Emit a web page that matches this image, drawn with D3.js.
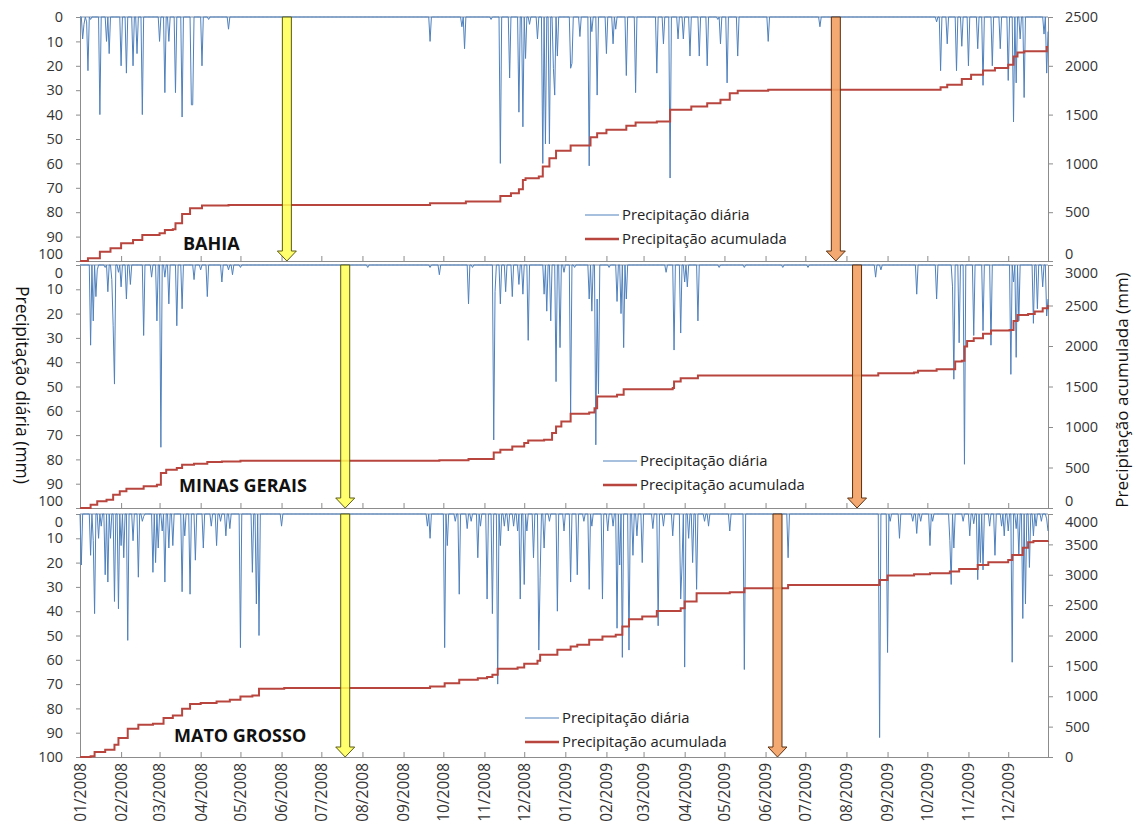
<!DOCTYPE html>
<html>
<head>
<meta charset="utf-8">
<script src="https://cdn.jsdelivr.net/npm/d3@7"></script>
<style>
  body { margin: 0; background: #fff; }
  svg text { font-family: "Open Sans", sans-serif; }
</style>
</head>
<body>
<div id="chart"></div>
<script>
// daily rain events per state: [day since 01/01/2008, mm]; other days are 0
const bahiaDaily = [
  [2, 9], [3, 3], [5, 2], [6, 22], [8, 1], [15, 40], [20, 10], [22, 15], [31, 20], [35, 23], [40, 20], [43, 15],
  [47, 40], [60, 10], [64, 31], [67, 10], [72, 31], [77, 41], [84, 36], [85, 36], [92, 20], [97, 1], [112, 5],
  [264, 10], [288, 4], [290, 13], [310, 1], [317, 60], [324, 25], [331, 39], [334, 45], [336, 17], [339, 3],
  [345, 9], [349, 60], [351, 52], [354, 52], [357, 21], [358, 32], [360, 16], [370, 21], [371, 19], [377, 8],
  [384, 61], [386, 6], [390, 32], [397, 15], [402, 11], [404, 5], [412, 24], [419, 31], [435, 23], [440, 11],
  [445, 66], [451, 9], [455, 9], [460, 16], [467, 16], [473, 20], [481, 1], [483, 11], [488, 27], [496, 16],
  [519, 10], [558, 4], [646, 2], [649, 22], [654, 11], [661, 22], [665, 12], [670, 20], [677, 13], [681, 28],
  [688, 20], [694, 13], [700, 26], [704, 43], [706, 27], [709, 9], [712, 33], [727, 7], [729, 23], [730, 6]
];
const minasDaily = [
  [8, 33], [10, 23], [12, 13], [13, 2], [19, 1], [21, 11], [24, 6], [25, 25], [26, 49], [29, 3], [31, 9],
  [35, 14], [38, 8], [48, 29], [54, 5], [58, 23], [61, 75], [64, 5], [67, 16], [73, 25], [77, 18], [86, 6],
  [91, 2], [96, 13], [107, 7], [112, 2], [115, 4], [121, 1], [217, 1],
  [264, 1], [271, 4], [293, 16], [296, 1], [312, 72], [313, 11], [317, 16], [321, 11], [326, 13], [331, 8],
  [334, 12], [338, 31], [350, 12], [352, 19], [355, 23], [359, 48], [362, 34], [365, 3], [370, 61], [373, 1],
  [384, 14], [386, 19], [389, 74], [390, 14], [391, 53], [399, 1], [405, 15], [408, 20], [410, 34], [412, 14],
  [442, 3], [448, 35], [453, 28], [456, 7], [458, 9], [466, 23], [482, 1], [501, 1],
  [530, 1], [549, 1], [600, 5], [604, 2], [631, 12], [646, 14], [658, 9], [659, 47], [663, 32], [667, 82],
  [674, 29], [681, 27], [687, 33], [702, 45], [704, 7], [706, 38], [708, 23], [719, 24], [722, 18], [726, 9],
  [729, 21], [730, 14]
];
const matoDaily = [
  [1, 21], [8, 17], [10, 11], [11, 41], [14, 10], [16, 5], [19, 25], [21, 28], [23, 10], [26, 36], [29, 39],
  [31, 13], [33, 18], [36, 52], [40, 11], [44, 26], [47, 3], [48, 1], [55, 24], [57, 20], [59, 14], [62, 7],
  [64, 28], [67, 14], [70, 13], [77, 32], [79, 9], [83, 33], [87, 19], [93, 14], [99, 5], [103, 13], [106, 3],
  [110, 9], [113, 6], [121, 55], [130, 24], [133, 37], [135, 50], [152, 5],
  [262, 5], [264, 10], [275, 55], [277, 13], [283, 3], [286, 33], [292, 6], [295, 3], [300, 18], [302, 5],
  [307, 35], [311, 41], [315, 70], [317, 13], [320, 5], [323, 7], [327, 5], [330, 7], [332, 35], [335, 29],
  [337, 7], [342, 18], [346, 56], [347, 26], [350, 14], [354, 3], [360, 40], [365, 7], [370, 28], [375, 25],
  [380, 3], [384, 31], [386, 5], [394, 35], [398, 7], [402, 5], [405, 47], [407, 21], [409, 59], [414, 56],
  [417, 17], [420, 9], [424, 20], [432, 6], [436, 46], [440, 5], [447, 9], [453, 35], [454, 21], [456, 63],
  [459, 10], [462, 20], [465, 31], [471, 3], [474, 5], [490, 7], [501, 64],
  [534, 18], [603, 92], [609, 57], [611, 3], [618, 10], [628, 3], [631, 8], [634, 3], [641, 13], [643, 3],
  [656, 11], [657, 29], [659, 14], [666, 3], [671, 9], [674, 4], [677, 27], [679, 20], [681, 23], [686, 5],
  [690, 17], [695, 5], [697, 9], [700, 7], [703, 61], [706, 6], [708, 17], [711, 43], [713, 37], [716, 22],
  [719, 9], [721, 5], [725, 3], [729, 2], [730, 7]
];

// accumulated rain: [day, mm] where the level changes
const bahiaTotal = [
  [0, 0], [6, 27], [15, 96], [23, 130], [31, 181], [40, 215], [47, 267], [60, 284], [64, 318], [70, 325],
  [72, 386], [77, 482], [83, 540], [92, 568], [112, 575], [264, 592], [291, 609], [317, 667], [325, 694],
  [331, 735], [334, 831], [336, 848], [346, 865], [349, 968], [354, 1053], [359, 1129], [370, 1183],
  [385, 1269], [390, 1310], [397, 1344], [412, 1385], [419, 1419], [435, 1430], [445, 1549], [461, 1583],
  [473, 1617], [483, 1652], [490, 1720], [496, 1744], [519, 1754], [649, 1781], [654, 1806], [665, 1864],
  [672, 1908], [681, 1953], [690, 1977], [700, 2011], [704, 2096], [707, 2137], [712, 2148], [729, 2192],
  [730, 2192]
];
const minasTotal = [
  [0, 0], [8, 41], [13, 82], [20, 103], [25, 164], [30, 206], [35, 238], [48, 267], [58, 288], [61, 432],
  [65, 473], [73, 493], [77, 534], [86, 547], [96, 567], [107, 575], [121, 584], [271, 588], [293, 604],
  [312, 686], [317, 719], [326, 760], [335, 801], [338, 834], [350, 842], [356, 925], [359, 1007],
  [363, 1069], [370, 1163], [384, 1180], [388, 1233], [390, 1377], [405, 1397], [410, 1467], [447, 1480],
  [448, 1562], [453, 1603], [466, 1636], [602, 1664], [629, 1673], [632, 1693], [646, 1714], [660, 1808],
  [665, 1817], [667, 1993], [669, 2063], [674, 2096], [681, 2150], [687, 2191], [701, 2199], [704, 2310],
  [707, 2384], [715, 2396], [720, 2425], [726, 2466], [730, 2507]
];
const matoTotal = [
  [0, 0], [8, 11], [11, 82], [19, 121], [26, 203], [29, 312], [36, 466], [44, 531], [55, 548], [63, 641],
  [70, 685], [77, 794], [83, 871], [91, 888], [103, 915], [113, 942], [121, 997], [130, 1014], [135, 1123],
  [154, 1134], [264, 1162], [275, 1216], [286, 1271], [300, 1298], [307, 1315], [311, 1353], [315, 1452],
  [330, 1474], [335, 1534], [345, 1583], [347, 1682], [360, 1764], [370, 1819], [375, 1846], [384, 1929],
  [394, 1983], [404, 2011], [409, 2148], [414, 2268], [424, 2312], [435, 2405], [453, 2449], [456, 2559],
  [465, 2696], [490, 2712], [501, 2778], [534, 2833], [603, 2915], [609, 2986], [629, 3008], [641, 3024],
  [656, 3052], [663, 3096], [677, 3161], [685, 3205], [700, 3244], [703, 3326], [711, 3446], [715, 3534],
  [719, 3556], [730, 3561]
];

const stateNames = ["BAHIA", "MINAS GERAIS", "MATO GROSSO"];
const totalTicks = [
  [0, 500, 1000, 1500, 2000, 2500],
  [0, 500, 1000, 1500, 2000, 2500, 3000],
  [0, 500, 1000, 1500, 2000, 2500, 3000, 3500, 4000]
];
const rainTicks = [0, 10, 20, 30, 40, 50, 60, 70, 80, 90, 100];
// arrow days (yellow, orange)
const yellowDay = [156, 200, 200];
const orangeDay = [570, 586, 526];
const monthLabels = [
  "01/2008", "02/2008", "03/2008", "04/2008", "05/2008", "06/2008", "07/2008", "08/2008", "09/2008",
  "10/2008", "11/2008", "12/2008", "01/2009", "02/2009", "03/2009", "04/2009", "05/2009", "06/2009",
  "07/2009", "08/2009", "09/2009", "10/2009", "11/2009", "12/2009"
];
const legendLabels = ["Precipitação diária", "Precipitação acumulada"];

// layout
const width = 1134, height = 830;
const left = 80, right = 1048;
const panelTop = [17, 265, 514];
const panelBottom = [261, 508, 757];
const nameX = [183, 179, 174], nameY = [250, 492, 742];
const legX = [585, 603, 525], legY = [215, 461, 718];

const blue = "#4F81BD", red = "#B8463F", axisGray = "#8c8c8c", textCol = "#333";

const start = new Date(2008, 0, 1);
const end = new Date(2009, 11, 31);
const dayDate = (d) => d3.timeDay.offset(start, d);
const x = d3.scaleTime().domain([start, end]).range([left, right]);
const monthTicks = d3.timeMonth.range(start, new Date(2010, 0, 1));

const svg = d3.select("#chart").append("svg")
  .attr("width", width).attr("height", height)
  .style("background", "#fff");

const panels = [
  { daily: bahiaDaily, total: bahiaTotal },
  { daily: minasDaily, total: minasTotal },
  { daily: matoDaily, total: matoTotal }
];

function styleAxis(g) {
  g.attr("font-family", null);
  g.selectAll(".domain, .tick line").attr("stroke", axisGray);
  g.selectAll("text").attr("font-size", 14.5).attr("fill", textCol);
}

// labels at the joins between panels are pushed inside their own panel
function nudgeEnds(g, topVal, bottomVal, i) {
  g.selectAll(".tick text").attr("y", (d) => {
    if (d === topVal && i > 0) return 8;
    if (d === bottomVal && i < 2) return -7;
    return 0;
  });
}

function arrowPath(cx, y0, y1) {
  const sw = 4.5, hw = 9.5, hh = 10;
  return `M${cx - sw},${y0}L${cx + sw},${y0}L${cx + sw},${y1 - hh}L${cx + hw},${y1 - hh}` +
    `L${cx},${y1}L${cx - hw},${y1 - hh}L${cx - sw},${y1 - hh}Z`;
}

panels.forEach((p, i) => {
  const top = panelTop[i], bottom = panelBottom[i];
  const yRain = d3.scaleLinear().domain([0, 100]).range([top, bottom]);
  const ticks = totalTicks[i];
  const tMax = ticks[ticks.length - 1];
  const yTot = d3.scaleLinear().domain([0, tMax]).range([bottom, top]);
  const g = svg.append("g");

  // top frame line
  g.append("line")
    .attr("x1", left).attr("x2", right).attr("y1", top).attr("y2", top)
    .attr("stroke", "#7d8fa8");

  // month ticks along the bottom
  g.append("g")
    .attr("transform", `translate(0,${bottom})`)
    .call(d3.axisTop(x).tickValues(monthTicks).tickSize(5).tickSizeOuter(0).tickFormat(""))
    .call(styleAxis);

  // left axis (daily, reversed)
  g.append("g")
    .attr("transform", `translate(${left},0)`)
    .call(d3.axisLeft(yRain).tickValues(rainTicks).tickSize(4).tickSizeOuter(0).tickPadding(13))
    .call(styleAxis)
    .call((a) => nudgeEnds(a, 0, 100, i));

  // right axis (accumulated)
  g.append("g")
    .attr("transform", `translate(${right},0)`)
    .call(d3.axisRight(yTot).tickValues(ticks).tickSize(5).tickSizeOuter(0).tickPadding(12)
      .tickFormat(d3.format("d")))
    .call(styleAxis)
    .call((a) => nudgeEnds(a, tMax, 0, i));

  // daily series: every day, zero where no rain was read
  const rainMap = new Map(p.daily);
  const days = d3.range(0, 731).map((d) => [d, rainMap.get(d) || 0]);
  g.append("path")
    .datum(days)
    .attr("fill", "none")
    .attr("stroke", blue)
    .attr("stroke-width", 1)
    .attr("d", d3.line().x((d) => x(dayDate(d[0]))).y((d) => yRain(d[1])));

  // accumulated series
  g.append("path")
    .datum(p.total)
    .attr("fill", "none")
    .attr("stroke", red)
    .attr("stroke-width", 2)
    .attr("d", d3.line().curve(d3.curveStepAfter).x((d) => x(dayDate(d[0]))).y((d) => yTot(d[1])));

  // arrows
  g.append("path")
    .attr("d", arrowPath(x(dayDate(yellowDay[i])), top, bottom))
    .attr("fill", "#FFFF55").attr("fill-opacity", 0.85)
    .attr("stroke", "#5a5a10").attr("stroke-width", 1);
  g.append("path")
    .attr("d", arrowPath(x(dayDate(orangeDay[i])), top, bottom))
    .attr("fill", "#F2A062").attr("fill-opacity", 0.9)
    .attr("stroke", "#5c3010").attr("stroke-width", 1);

  // state name
  g.append("text")
    .attr("x", nameX[i]).attr("y", nameY[i])
    .attr("font-size", 18).attr("font-weight", "bold").attr("fill", "#111")
    .text(stateNames[i]);

  // legend
  [blue, red].forEach((c, k) => {
    const ly = legY[i] + k * 24;
    g.append("line")
      .attr("x1", legX[i]).attr("x2", legX[i] + 34).attr("y1", ly).attr("y2", ly)
      .attr("stroke", c).attr("stroke-width", k === 0 ? 1 : 2.5);
    g.append("text")
      .attr("x", legX[i] + 37).attr("y", ly).attr("dy", "0.35em")
      .attr("font-size", 14.8).attr("fill", "#222")
      .text(legendLabels[k]);
  });

  // month labels under the last panel
  if (i === panels.length - 1) {
    const ax = g.append("g")
      .attr("transform", `translate(0,${bottom})`)
      .call(d3.axisBottom(x).tickValues(monthTicks).tickSize(0)
        .tickFormat((d, j) => monthLabels[j]))
      .call(styleAxis);
    ax.select(".domain").remove();
    ax.selectAll("text")
      .attr("transform", "rotate(-90)")
      .attr("x", -6).attr("y", 0).attr("dy", "0.35em")
      .attr("text-anchor", "end")
      .attr("font-size", 15.5);
  }
});

// axis titles
svg.append("text")
  .attr("transform", "translate(22,385) rotate(90)")
  .attr("text-anchor", "middle").attr("dy", "0.35em")
  .attr("font-size", 17.5).attr("fill", "#111")
  .text("Precipitação diária (mm)");
svg.append("text")
  .attr("transform", "translate(1122,390) rotate(-90)")
  .attr("text-anchor", "middle").attr("dy", "0.35em")
  .attr("font-size", 17).attr("fill", "#111")
  .text("Precipitação acumulada (mm)");
</script>
</body>
</html>
